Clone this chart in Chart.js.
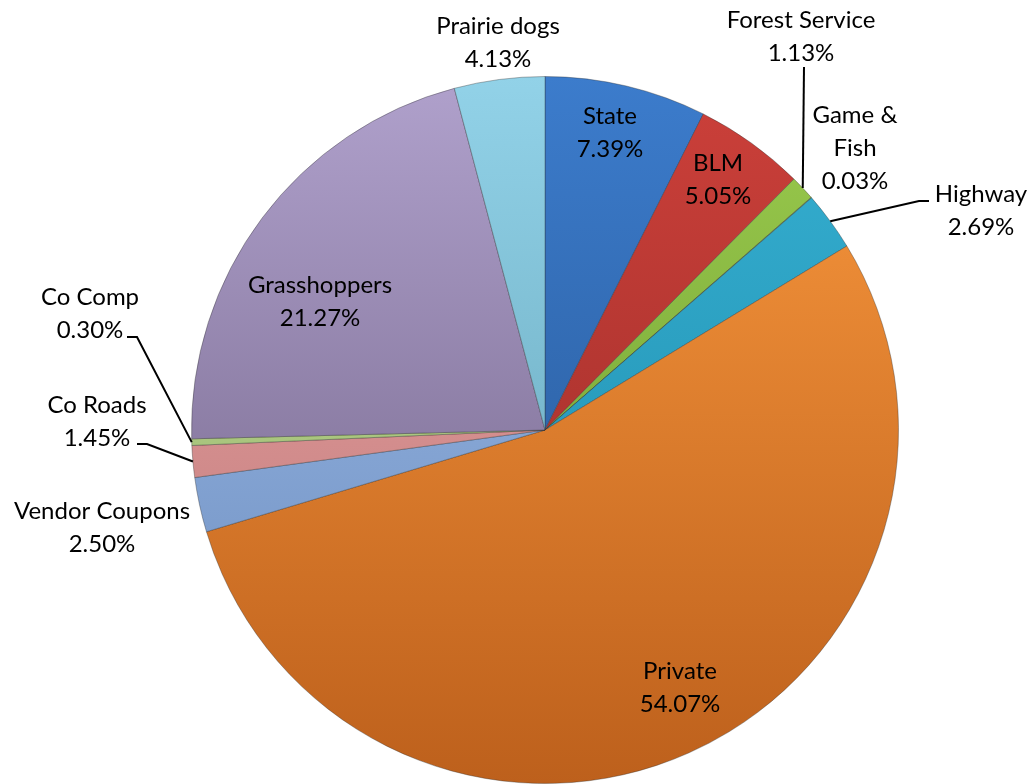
<!DOCTYPE html>
<html>
<head>
<meta charset="utf-8">
<script src="https://cdn.jsdelivr.net/npm/chart.js@4.4.1/dist/chart.umd.min.js"></script>
<style>
  html, body { margin: 0; padding: 0; background: #fff; }
  #wrap { width: 1029px; height: 784px; }
</style>
</head>
<body>
<div id="wrap"><canvas id="pieChart" width="1029" height="784"></canvas></div>
<script>
// data, clockwise from 12 o'clock
const labels = ['State', 'BLM', 'Forest Service', 'Game & Fish', 'Highway', 'Private',
  'Vendor Coupons', 'Co Roads', 'Co Comp', 'Grasshoppers', 'Prairie dogs'];
const shares = [7.39, 5.05, 1.13, 0.03, 2.69, 54.07, 2.50, 1.45, 0.30, 21.27, 4.13];

// slice colours, lighter at the top of the pie, darker at the bottom
const topColors = ['#3c7ccc', '#cc403a', '#9ccc4e', '#8fbf4a', '#36b0d2', '#fa993e',
  '#a0c0ec', '#f0a8a8', '#cae2a2', '#b0a1cc', '#92d2e8'];
const bottomColors = ['#24528e', '#942a26', '#64922c', '#64922c', '#1c88a8', '#bd601c',
  '#6a8abc', '#b87474', '#8aaa5c', '#6a5c80', '#5e9eb2'];

// label text boxes (centre of the text block) and leader line start points
const labelSpots = [
  { x: 610, y: 133 },
  { x: 718, y: 180 },
  { x: 801, y: 37, from: [804, 67] },
  { x: 855, y: 148 },
  { x: 981, y: 211, from: [929, 201], elbow: [919, 201] },
  { x: 680, y: 688 },
  { x: 102, y: 528 },
  { x: 97, y: 422, from: [137, 444], elbow: [147, 444] },
  { x: 90, y: 314, from: [127, 337], elbow: [137, 337] },
  { x: 320, y: 302 },
  { x: 498, y: 43 }
];

function sliceGradient(context) {
  const chart = context.chart;
  const area = chart.chartArea;
  if (!area) return topColors[context.dataIndex];
  const g = chart.ctx.createLinearGradient(0, area.top, 0, area.bottom);
  g.addColorStop(0, topColors[context.dataIndex]);
  g.addColorStop(1, bottomColors[context.dataIndex]);
  return g;
}

function labelLines(i) {
  if (labels[i] === 'Game & Fish') return ['Game &', 'Fish', shares[i].toFixed(2) + '%'];
  return [labels[i], shares[i].toFixed(2) + '%'];
}

const pieLabels = {
  id: 'pieLabels',
  afterDatasetsDraw(chart) {
    const ctx = chart.ctx;
    const arcs = chart.getDatasetMeta(0).data;
    ctx.save();
    ctx.fillStyle = '#000';
    ctx.font = '24px Lato, "Open Sans", sans-serif';
    ctx.textAlign = 'center';
    ctx.textBaseline = 'middle';
    const lineH = 33;
    labelSpots.forEach((spot, i) => {
      const lines = labelLines(i);
      const y0 = spot.y - (lines.length - 1) * lineH / 2;
      lines.forEach((t, k) => ctx.fillText(t, spot.x, y0 + k * lineH));

      if (spot.from) {
        // leader line ends on the rim at the middle of the slice
        const arc = arcs[i];
        const mid = (arc.startAngle + arc.endAngle) / 2;
        const ex = arc.x + Math.cos(mid) * arc.outerRadius;
        const ey = arc.y + Math.sin(mid) * arc.outerRadius;
        ctx.beginPath();
        ctx.strokeStyle = '#000';
        ctx.lineWidth = 2;
        ctx.moveTo(spot.from[0], spot.from[1]);
        if (spot.elbow) ctx.lineTo(spot.elbow[0], spot.elbow[1]);
        ctx.lineTo(ex, ey);
        ctx.stroke();
      }
    });
    ctx.restore();
  }
};

new Chart(document.getElementById('pieChart'), {
  type: 'pie',
  data: {
    labels: labels,
    datasets: [{
      data: shares,
      backgroundColor: sliceGradient,
      borderColor: 'rgba(40, 40, 40, 0.35)',
      borderWidth: 1
    }]
  },
  options: {
    responsive: false,
    animation: false,
    layout: { padding: { left: 191, right: 130, top: 76, bottom: 0 } },
    plugins: {
      legend: { display: false },
      tooltip: { enabled: false }
    }
  },
  plugins: [pieLabels]
});
</script>
</body>
</html>
